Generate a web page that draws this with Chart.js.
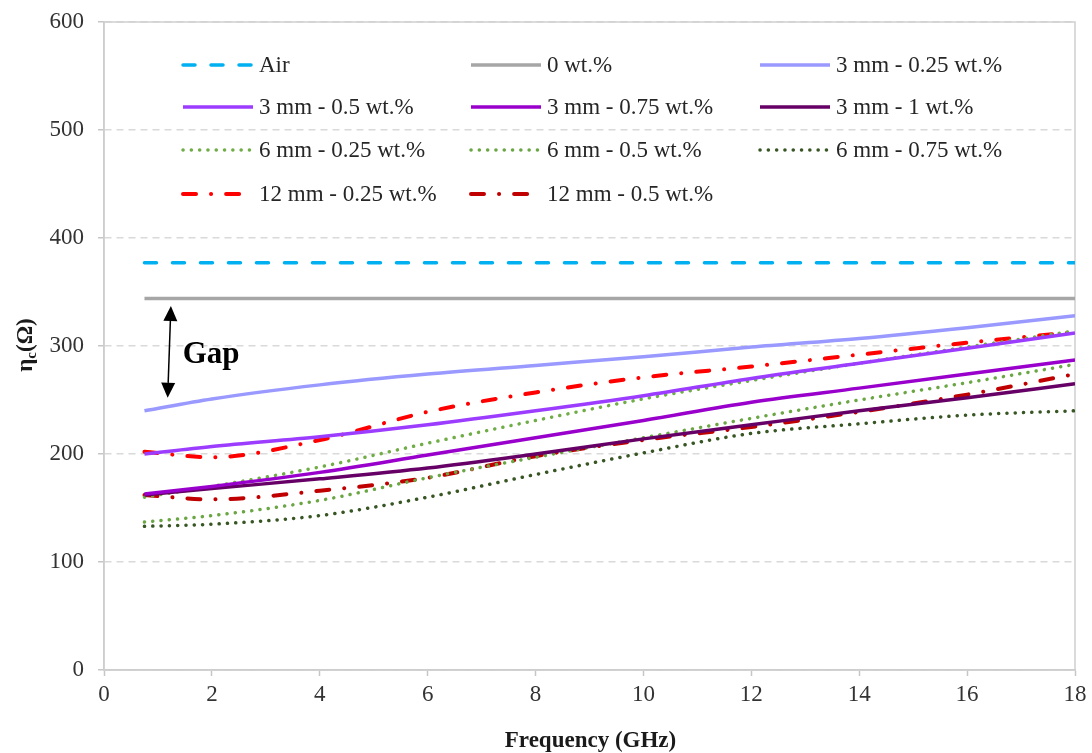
<!DOCTYPE html>
<html>
<head>
<meta charset="utf-8">
<script src="https://cdn.jsdelivr.net/npm/chart.js@4.4.1/dist/chart.umd.min.js"></script>
<style>
  html, body { margin: 0; padding: 0; background: #ffffff; }
  #wrap { width: 1092px; height: 753px; }
</style>
</head>
<body>
<div id="wrap"><canvas id="c" width="1092" height="753"></canvas></div>
<script>
// ---- Data ----
const freqGHz = [0.75, 2, 4, 6, 8, 10, 12, 14, 16, 18];
const xTickLabels = ['0', '2', '4', '6', '8', '10', '12', '14', '16', '18'];
const yTickLabels = ['0', '100', '200', '300', '400', '500', '600'];

const seriesLabels = [
  'Air', '0 wt.%', '3 mm - 0.25 wt.%',
  '3 mm - 0.5 wt.%', '3 mm - 0.75 wt.%', '3 mm - 1 wt.%',
  '6 mm - 0.25 wt.%', '6 mm - 0.5 wt.%', '6 mm - 0.75 wt.%',
  '12 mm - 0.25 wt.%', '12 mm - 0.5 wt.%'
];
const air      = [377, 377, 377, 377, 377, 377, 377, 377, 377, 377];
const wt0      = [344, 344, 344, 344, 344, 344, 344, 344, 344, 344];
const mm3_025  = [240, 251, 264, 274, 282, 290, 299, 307, 317, 328];
const mm3_05   = [200, 207, 216, 227, 240, 254, 270, 284, 298, 312];
const mm3_075  = [163, 170, 183, 199, 215, 231, 248, 261, 274, 287];
const mm3_1    = [162, 168, 177, 187, 200, 214, 227, 240, 252, 265];
const mm6_025  = [160, 170, 188, 210, 231, 251, 268, 284, 299, 314];
const mm6_05   = [137, 143, 157, 178, 197, 215, 233, 250, 266, 283];
const mm6_075  = [133, 135, 143, 160, 181, 201, 219, 228, 236, 240];
const mm12_025 = [202, 197, 213, 239, 257, 271, 281, 292, 303, 313];
const mm12_05  = [162, 158, 166, 178, 198, 213, 225, 239, 255, 274];

const seriesValues = [air, wt0, mm3_025, mm3_05, mm3_075, mm3_1, mm6_025, mm6_05, mm6_075, mm12_025, mm12_05];

// Gap annotation (data coordinates)
const gapArrow = { x1: 1.24, y1: 337, x2: 1.18, y2: 252 };
const gapLabel = { text: 'Gap', x: 1.46, y: 284 };

// ---- Styles ----
const FONT = '"Liberation Serif", "Times New Roman", serif';
const dotted = [0.1, 8.2];
const dashDot = [13, 15, 0.1, 15];
const styles = [
  { color: '#00b0f0', width: 3.5, dash: [12, 16], cap: 'round' },
  { color: '#a6a6a6', width: 3.5, dash: [], cap: 'butt' },
  { color: '#9999ff', width: 3.5, dash: [], cap: 'butt' },
  { color: '#9b3cff', width: 3.5, dash: [], cap: 'butt' },
  { color: '#9900cc', width: 3.5, dash: [], cap: 'butt' },
  { color: '#660066', width: 3.5, dash: [], cap: 'butt' },
  { color: '#70ad47', width: 3.5, dash: dotted, cap: 'round' },
  { color: '#6aa744', width: 3.5, dash: dotted, cap: 'round' },
  { color: '#375623', width: 3.5, dash: dotted, cap: 'round' },
  { color: '#ff0000', width: 4, dash: dashDot, cap: 'round' },
  { color: '#c00000', width: 4, dash: dashDot, cap: 'round' }
];

const datasets = seriesLabels.map((lab, i) => ({
  label: lab,
  data: freqGHz.map((f, k) => ({ x: f, y: seriesValues[i][k] })),
  borderColor: styles[i].color,
  backgroundColor: styles[i].color,
  borderWidth: styles[i].width,
  borderDash: styles[i].dash,
  borderCapStyle: styles[i].cap,
  pointRadius: 0,
  fill: false,
  cubicInterpolationMode: 'monotone'
}));

const framePlugin = {
  id: 'frame',
  beforeDatasetsDraw(chart) {
    const { ctx, chartArea: a } = chart;
    ctx.save();
    ctx.strokeStyle = '#cfcfcf';
    ctx.lineWidth = 1.5;
    ctx.setLineDash([]);
    ctx.strokeRect(a.left, a.top, a.right - a.left, a.bottom - a.top);
    ctx.restore();
  }
};

const overlayPlugin = {
  id: 'overlay',
  afterDraw(chart) {
    const { ctx } = chart;
    const xs = chart.scales.x, ys = chart.scales.y;
    ctx.save();

    // Legend inside plot
    const colX = [183, 471, 760];
    const rowY = [65, 107, 150, 194];
    const lineLen = 70;
    ctx.font = '23px ' + FONT;
    ctx.textBaseline = 'middle';
    ctx.textAlign = 'left';
    chart.data.datasets.forEach((ds, i) => {
      const r = Math.floor(i / 3), c = i % 3;
      const x0 = colX[c], y0 = rowY[r];
      ctx.save();
      ctx.strokeStyle = ds.borderColor;
      ctx.lineWidth = ds.borderWidth;
      ctx.lineCap = ds.borderCapStyle;
      ctx.setLineDash(ds.borderDash);
      ctx.beginPath();
      ctx.moveTo(x0, y0);
      ctx.lineTo(x0 + lineLen, y0);
      ctx.stroke();
      ctx.restore();
      ctx.fillStyle = '#262626';
      ctx.fillText(ds.label, x0 + lineLen + 6, y0 + 1);
    });

    // Gap arrow
    const ax1 = xs.getPixelForValue(gapArrow.x1), ay1 = ys.getPixelForValue(gapArrow.y1);
    const ax2 = xs.getPixelForValue(gapArrow.x2), ay2 = ys.getPixelForValue(gapArrow.y2);
    const ang = Math.atan2(ay2 - ay1, ax2 - ax1);
    const headL = 15, headW = 7;
    ctx.strokeStyle = '#000';
    ctx.fillStyle = '#000';
    ctx.lineWidth = 1.5;
    ctx.setLineDash([]);
    ctx.beginPath();
    ctx.moveTo(ax1 + Math.cos(ang) * headL, ay1 + Math.sin(ang) * headL);
    ctx.lineTo(ax2 - Math.cos(ang) * headL, ay2 - Math.sin(ang) * headL);
    ctx.stroke();
    function head(tx, ty, dir) {
      const bx = tx - Math.cos(dir) * headL, by = ty - Math.sin(dir) * headL;
      const px = -Math.sin(dir) * headW, py = Math.cos(dir) * headW;
      ctx.beginPath();
      ctx.moveTo(tx, ty);
      ctx.lineTo(bx + px, by + py);
      ctx.lineTo(bx - px, by - py);
      ctx.closePath();
      ctx.fill();
    }
    head(ax2, ay2, ang);
    head(ax1, ay1, ang + Math.PI);

    // Gap text
    ctx.font = 'bold 31px ' + FONT;
    ctx.textBaseline = 'alphabetic';
    ctx.fillText(gapLabel.text, xs.getPixelForValue(gapLabel.x), ys.getPixelForValue(gapLabel.y));

    // X axis title
    ctx.font = 'bold 23px ' + FONT;
    ctx.textAlign = 'center';
    ctx.textBaseline = 'middle';
    ctx.fillStyle = '#1a1a1a';
    ctx.fillText('Frequency (GHz)', (chart.chartArea.left + chart.chartArea.right) / 2 + 1, 741);

    // Y axis title: η_c(Ω) rotated
    ctx.translate(25, 345);
    ctx.rotate(-Math.PI / 2);
    const fMain = 'bold 23px ' + FONT, fSub = 'bold 15px ' + FONT;
    ctx.font = fMain; const w1 = ctx.measureText('η').width;
    ctx.font = fSub;  const w2 = ctx.measureText('c').width;
    ctx.font = fMain; const w3 = ctx.measureText('(Ω)').width;
    let sx = -(w1 + w2 + w3) / 2;
    ctx.textAlign = 'left';
    ctx.textBaseline = 'alphabetic';
    ctx.font = fMain; ctx.fillText('η', sx, 7); sx += w1;
    ctx.font = fSub;  ctx.fillText('c', sx, 11); sx += w2;
    ctx.font = fMain; ctx.fillText('(Ω)', sx, 7);
    ctx.restore();
  }
};

new Chart(document.getElementById('c'), {
  type: 'line',
  data: { datasets },
  plugins: [framePlugin, overlayPlugin],
  options: {
    responsive: false,
    animation: false,
    devicePixelRatio: 1,
    layout: { padding: { left: 0, right: 17, top: 22, bottom: 0 } },
    plugins: { legend: { display: false }, tooltip: { enabled: false } },
    scales: {
      x: {
        type: 'linear',
        min: 0, max: 18,
        afterFit(s) { s.height = 83; s.paddingLeft = 0; s.paddingRight = 0; },
        ticks: {
          stepSize: 2,
          padding: 5,
          color: '#333333',
          font: { family: FONT, size: 23 },
          callback: (v, i) => xTickLabels[i]
        },
        grid: { drawOnChartArea: false, drawTicks: true, tickLength: 6, tickColor: '#c6c6c6', tickWidth: 1.5 },
        border: { display: true, color: '#c6c6c6', width: 1.5 }
      },
      y: {
        type: 'linear',
        min: 0, max: 600,
        afterFit(s) { s.width = 104; s.paddingTop = 0; s.paddingBottom = 0; },
        ticks: {
          stepSize: 100,
          padding: 14,
          color: '#333333',
          font: { family: FONT, size: 23 },
          callback: (v, i) => yTickLabels[i]
        },
        grid: { drawOnChartArea: true, color: '#d9d9d9', lineWidth: 1.5, drawTicks: true, tickLength: 6, tickColor: '#c6c6c6', tickWidth: 1.5, tickBorderDash: [] },
        border: { display: true, color: '#c6c6c6', width: 1.5, dash: [7, 5] }
      }
    }
  }
});
</script>
</body>
</html>
